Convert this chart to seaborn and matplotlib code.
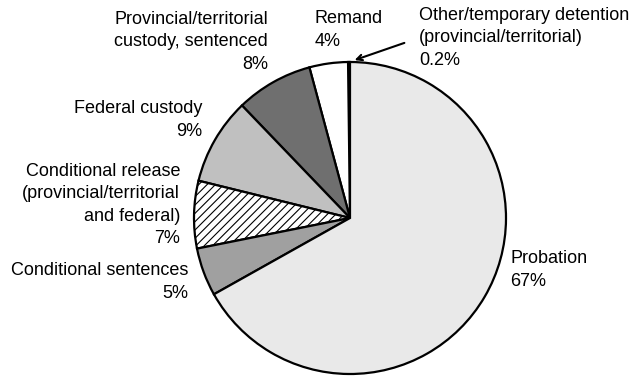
import matplotlib.pyplot as plt
import seaborn as sns

sns.set_style("white")
plt.rcParams['font.family'] = ['Liberation Sans', 'DejaVu Sans']
plt.rcParams['hatch.linewidth'] = 0.8

# Data (counterclockwise from the top)
labels = ['Other/temporary detention\n(provincial/territorial)',
          'Remand',
          'Provincial/territorial\ncustody, sentenced',
          'Federal custody',
          'Conditional release\n(provincial/territorial\nand federal)',
          'Conditional sentences',
          'Probation']
shares = [0.2, 4, 8, 9, 7, 5, 67]
pct_labels = ['0.2%', '4%', '8%', '9%', '7%', '5%', '67%']
colors = ['#3a3a3a', '#ffffff', '#6f6f6f', '#c0c0c0', '#ffffff', '#a0a0a0', '#e9e9e9']
hatches = ['', '', '', '', '////', '', '']

W, H = 630, 377
fig = plt.figure(figsize=(W / 100, H / 100), dpi=100)
ax = fig.add_axes([0, 0, 1, 1])

cx, cy, r = 350, H - 218, 156
wedges, _ = ax.pie(shares, colors=colors, startangle=90, counterclock=True,
                   center=(cx, cy), radius=r, frame=True,
                   wedgeprops=dict(edgecolor='black', linewidth=1.6))
for w, h in zip(wedges, hatches):
    w.set_hatch(h)
ax.set_xlim(0, W)
ax.set_ylim(0, H)
ax.set_aspect('equal')
ax.axis('off')

fs = 13
# label placement: (x, y of block centre, alignment)
place = [(419, 38, 'left'),
         (315, 30, 'left'),
         (268, 42, 'right'),
         (202, 120, 'right'),
         (180, 205, 'right'),
         (188, 282, 'right'),
         (510, 270, 'left')]
for lab, pct, (x, y, ha) in zip(labels, pct_labels, place):
    ax.text(x, H - y, lab + '\n' + pct, ha=ha, va='center', multialignment=ha,
            fontsize=fs, linespacing=1.4, color='black')

ax.annotate('', xy=(352, H - 61), xytext=(407, H - 42),
            arrowprops=dict(arrowstyle='->', color='black', lw=1.5))

fig.savefig('out.png', dpi=100)
